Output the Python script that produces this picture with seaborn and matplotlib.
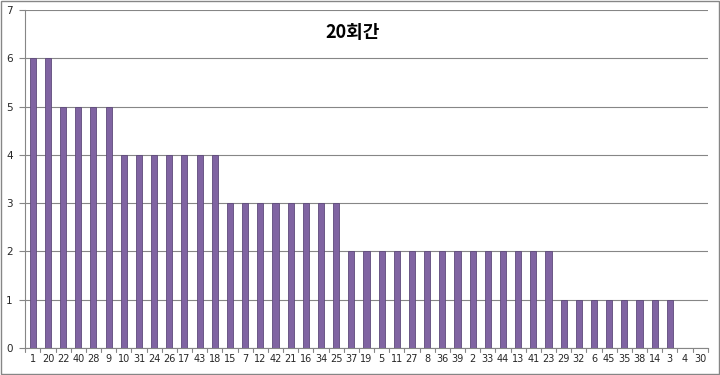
import matplotlib
matplotlib.use("Agg")
import matplotlib.pyplot as plt
import seaborn as sns
import pandas as pd
from matplotlib.patches import Rectangle

labels = ["1", "20", "22", "40", "28", "9", "10", "31", "24", "26", "17", "43", "18", "15",
          "7", "12", "42", "21", "16", "34", "25", "37", "19", "5", "11", "27", "8", "36",
          "39", "2", "33", "44", "13", "41", "23", "29", "32", "6", "45", "35", "38", "14",
          "3", "4", "30"]
counts = [6, 6, 5, 5, 5, 5, 4, 4, 4, 4, 4, 4, 4, 3,
          3, 3, 3, 3, 3, 3, 3, 2, 2, 2, 2, 2, 2, 2,
          2, 2, 2, 2, 2, 2, 2, 1, 1, 1, 1, 1, 1, 1,
          1, 0, 0]
title = "20회간"

sns.set_style("white")
plt.rcParams['font.family'] = ['DejaVu Sans', 'Noto Sans CJK KR']

df = pd.DataFrame({"num": labels, "cnt": counts})

fig = plt.figure(figsize=(7.2, 3.75), dpi=100)
ax = fig.add_axes([0.035, 0.072, 0.948, 0.901])

sns.barplot(data=df, x="num", y="cnt", order=labels, color="#8064A2",
            width=0.4, edgecolor="#5E4A7A", linewidth=0.6, saturation=1, ax=ax, zorder=3)

ax.set_ylim(0, 7)
ax.set_xlim(-0.5, len(labels) - 0.5)
ax.set_yticks(range(0, 8))
ax.yaxis.grid(True, color="#868686", linewidth=0.8, zorder=0)
ax.set_axisbelow(True)
ax.set_xlabel("")
ax.set_ylabel("")
ax.tick_params(axis="x", labelsize=7, length=0, pad=4)
ax.tick_params(axis="y", labelsize=7.5, length=4, direction="out", color="#868686", pad=5, left=True)
# category separator ticks
for i in range(len(labels) + 1):
    ax.plot([i - 0.5, i - 0.5], [0, -0.08], color="#868686", linewidth=0.8,
            clip_on=False, transform=ax.transData)

for s in ["top", "right"]:
    ax.spines[s].set_visible(False)
for s in ["left", "bottom"]:
    ax.spines[s].set_color("#868686")
    ax.spines[s].set_linewidth(0.8)

ax.text(0.48, 0.935, title, transform=ax.transAxes, ha="center", va="center",
        fontsize=13, fontweight="bold", color="black", family=['Noto Sans CJK KR'])

fig.patches.append(Rectangle((0.001, 0.002), 0.997, 0.995, transform=fig.transFigure,
                             fill=False, edgecolor="#868686", linewidth=1))

fig.savefig("out.png", dpi=100)
